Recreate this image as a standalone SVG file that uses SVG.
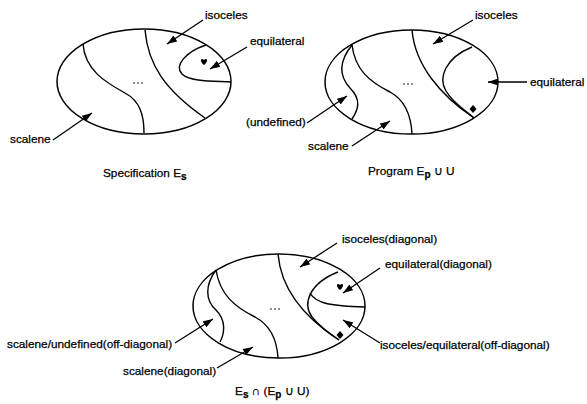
<svg xmlns="http://www.w3.org/2000/svg" width="587" height="404" viewBox="0 0 587 404">
<style>
.bd{fill:none;stroke:#000;stroke-width:1.5}
.cv{fill:none;stroke:#000;stroke-width:1.4}
.ar{fill:none;stroke:#000;stroke-width:1.3;marker-end:url(#ah)}
.sym{fill:#000;stroke:none}
text{font-family:"Liberation Sans",Arial,Helvetica,sans-serif;font-size:11.8px;fill:#000;stroke:#000;stroke-width:0.25}
.sub{font-size:10px;font-weight:bold}
</style>
<defs>
<marker id="ah" markerUnits="userSpaceOnUse" markerWidth="10" markerHeight="7" refX="10" refY="3.5" orient="auto">
<path d="M0,0 L10,3.5 L0,7 Z" fill="#000"/>
</marker>
</defs>
<rect width="587" height="404" fill="#fff"/>

<g id="spec">
<ellipse class="bd" cx="144" cy="81.5" rx="87" ry="52.5"/>
<path class="cv" d="M83,44 C85,70 105,82 125,93 C140,101 144,115 144,133"/>
<path class="cv" d="M145,30 C148,65 165,90 205,118"/>
<path class="cv" d="M206,45 C185,52 174,66 182,74 C190,82 215,81 231,82"/>
<path class="sym" d="M204,65 C199,61 201,57 204,60 C207,57 209,61 204,65 Z"/>
<circle class="sym" cx="134" cy="83" r="0.8"/><circle class="sym" cx="138" cy="83" r="0.8"/><circle class="sym" cx="142" cy="83" r="0.8"/>
<text x="205" y="18.5">isoceles</text>
<text x="250" y="45">equilateral</text>
<text x="10" y="142.5">scalene</text>
<text x="103" y="176.5">Specification E<tspan class="sub" dy="3">s</tspan></text>
</g>

<g id="program">
<ellipse class="bd" cx="411.5" cy="82" rx="86.5" ry="52"/>
<path class="cv" d="M352,45 C340,60 338,75 350,88 C362,100 358,110 352,119"/>
<path class="cv" d="M352,45 C355,70 370,82 390,92 C405,100 411,115 412,134"/>
<path class="cv" d="M412,30 C415,65 440,95 474,118"/>
<path class="cv" d="M472,47 C445,58 438,78 446,91 C453,103 465,110 474,118"/>
<path class="sym" d="M473,105 L476.5,109 L473,113 L469.5,109 Z"/>
<circle class="sym" cx="404" cy="84" r="0.8"/><circle class="sym" cx="408" cy="84" r="0.8"/><circle class="sym" cx="412" cy="84" r="0.8"/>
<text x="475" y="18.5">isoceles</text>
<text x="530" y="85.5">equilateral</text>
<text x="246" y="126">(undefined)</text>
<text x="308" y="150">scalene</text>
<text x="368" y="175">Program E<tspan class="sub" dy="3">p</tspan><tspan dy="-3"> ∪ U</tspan></text>
</g>

<g id="intersection">
<ellipse class="bd" cx="279" cy="306" rx="86" ry="52"/>
<path class="cv" d="M216,270 C205,285 205,300 216,310 C226,320 225,333 220,342"/>
<path class="cv" d="M216,270 C220,295 235,307 255,317 C270,325 277,340 278,358"/>
<path class="cv" d="M278,254 C281,290 305,318 339,340"/>
<path class="cv" d="M338,272 C310,283 302,303 312,317 C320,327 330,334 339,340"/>
<path class="cv" d="M310,293 C316,304 332,306 365,307"/>
<path class="sym" d="M340,290 C335,286 337,282 340,285 C343,282 345,286 340,290 Z"/>
<path class="sym" d="M340,331 L343.5,335 L340,339 L336.5,335 Z"/>
<circle class="sym" cx="271" cy="309" r="0.8"/><circle class="sym" cx="275" cy="309" r="0.8"/><circle class="sym" cx="279" cy="309" r="0.8"/>
<text x="342" y="243">isoceles(diagonal)</text>
<text x="385" y="268">equilateral(diagonal)</text>
<text x="380" y="349">isoceles/equilateral(off-diagonal)</text>
<text x="7" y="348">scalene/undefined(off-diagonal)</text>
<text x="123" y="375">scalene(diagonal)</text>
<text x="235" y="395">E<tspan class="sub" dy="3">s</tspan><tspan dy="-3"> ∩ (E</tspan><tspan class="sub" dy="3">p</tspan><tspan dy="-3"> ∪ U)</tspan></text>
</g>

<g id="connectors">
<path class="ar" d="M203,20 L167,44"/>
<path class="ar" d="M247,47 L210,69"/>
<path class="ar" d="M53,140 L92,113"/>
<path class="ar" d="M473,20 L433,44"/>
<path class="ar" d="M527,82 L488,82"/>
<path class="ar" d="M307,123 L347,96"/>
<path class="ar" d="M352,146 L390,121"/>
<path class="ar" d="M337,243 L300,267"/>
<path class="ar" d="M380,268 L343,293"/>
<path class="ar" d="M380,343 L343,320"/>
<path class="ar" d="M175,343 L213,319"/>
<path class="ar" d="M217,368 L253,347"/>
</g>
</svg>
